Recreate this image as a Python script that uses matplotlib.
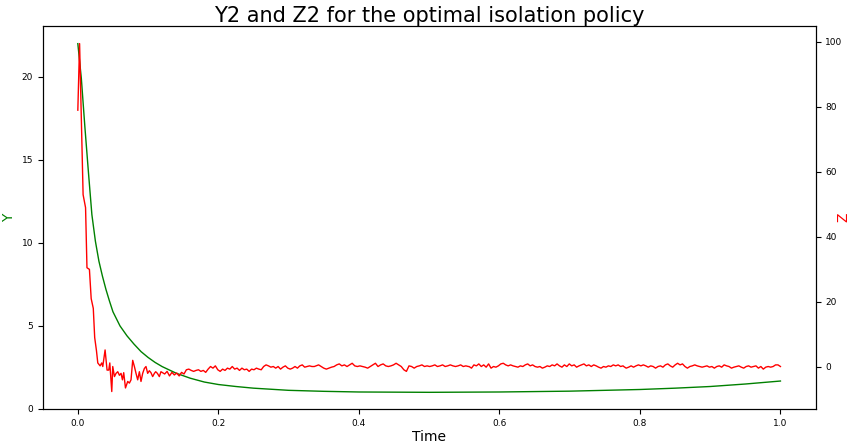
"""Y2 and Z2 under the optimal isolation policy, twin-axis line chart."""

import matplotlib
matplotlib.use("Agg")
import matplotlib.pyplot as plt
import numpy as np

# green curve, left axis (Y)
y_time = [0, 0.005, 0.01, 0.015, 0.02, 0.025, 0.03, 0.035, 0.04, 0.045, 0.05,
          0.06, 0.07, 0.08, 0.09, 0.1, 0.11, 0.12, 0.13, 0.14, 0.16, 0.18,
          0.2, 0.225, 0.25, 0.3, 0.35, 0.4, 0.5, 0.6, 0.7, 0.8, 0.85, 0.9,
          0.95, 1.0]
y_vals = [22.0, 19.9, 17.0, 14.3, 11.7, 10.1, 8.9, 8.0, 7.2, 6.5, 5.85,
          5.0, 4.4, 3.9, 3.45, 3.1, 2.8, 2.55, 2.35, 2.15, 1.85, 1.62,
          1.47, 1.35, 1.25, 1.12, 1.06, 1.02, 1.0, 1.02, 1.07, 1.17, 1.25, 1.35,
          1.5, 1.68]

# red curve, right axis (Z) -- initial transient
z_time_early = [0.0, 0.0025, 0.0075, 0.011, 0.013, 0.0165, 0.019, 0.022, 0.024,
                0.0265, 0.0284, 0.0317, 0.034, 0.0355, 0.0388, 0.0416, 0.044,
                0.0455, 0.0483, 0.0497, 0.0521, 0.0544, 0.0568, 0.0592, 0.0615,
                0.0635, 0.0653, 0.0678, 0.071, 0.0734, 0.0757, 0.0781, 0.0805,
                0.0828, 0.0852, 0.0876, 0.0899, 0.0923, 0.0947, 0.097, 0.0994,
                0.1018, 0.1041, 0.1065, 0.109, 0.1108, 0.1132, 0.116, 0.1183]
z_vals_early = [79, 99.5, 53, 49, 30.5, 30, 21, 18, 9,
                5, 1.2, 0.3, 1.2, 0.1, 5.2, -1, -1,
                1.2, -7.6, 0.1, -3, -2, -1.5, -2.6, -2,
                -4, -1.8, -6.5, -4.5, -5, -4, 2, 0.1,
                -2, -4, -1.5, -4.5, -2, -0.5, 0.1, -2,
                -1.2, -1.8, -3, -2, -1.5, -2, -3, -1.5]

# red curve -- noisy plateau, in four stretches
z_span_a = (0.1236, 0.3366)
z_vals_a = [-2.2, -1.4, -2.8, -1.7, -2.5, -1.9, -2.8, -1.7, -2.2, -0.9,
            -0.7, -1.1, -1.4, -1.1, -0.9, -1.4, -1.1, -1.7, -0.7, 0.1,
            -0.4, 0.3, -0.9, -1.4, -0.7, -1.1, -0.4, -0.7, 0.1, -0.7,
            -0.4, -1.1, -0.4, -0.9, -0.7, -1.4, -0.7, -0.9, -0.4, -0.7,
            -0.9, 0.1, 0.6, 0.3, -0.1, 0.1, -0.4, 0.1, -0.7, -0.1,
            0.3, -0.4, -0.7, -0.4, 0.1, -0.4, 0.3, 0.6, -0.1, 0.1,
            0.3, 0.1, 0.1]
z_span_b = (0.339, 0.5559)
z_vals_b = [0.3, 0.6, 0.1, -0.4, -0.7, -0.4, -0.1, 0.1, 0.6, 0.9,
            0.3, 0.6, 0.1, 0.6, 1.1, 0.3, 0.1, 0.3, 0.1, -0.1,
            -0.4, 0.1, 0.6, 1.1, 0.1, 0.6, 0.9, 0.3, 0.1, 0.3,
            0.6, 1.1, 0.6, 0.1, -0.9, -1.4, 0.3, 0.1, -0.4, 0.1,
            0.3, 0.6, 0.1, 0.3, 0.1, 0.3, 0.6, 0.1, 0.3, 0.6,
            0.1, 0.3, 0.6, 0.3, 0.1, 0.3, 0.6, 0.1, 0.3, 0.1]
z_span_c = (0.5568, 0.776)
z_vals_c = [0.1, -0.4, 0.6, 0.3, 0.9, 0.1, 0.6, -0.1, 0.9, -0.4,
            0.1, -0.1, 0.3, 0.9, 1.1, 0.6, 0.3, 0.6, 0.3, 0.1,
            -0.1, 0.3, 0.1, 0.6, 0.9, 0.3, 0.6, 0.1, -0.1, 0.1,
            -0.4, -0.1, 0.3, 0.1, 0.6, 0.3, 0.9, 0.3, -0.1, 0.6,
            0.1, 0.9, 0.3, 0.6, -0.1, 0.3, 0.6, 0.9, 0.3, 0.6,
            0.1, 0.6, 0.3, -0.1, -0.4, 0.1, -0.1, 0.3, 0.1, 0.6,
            0.3, 0.6, 0.1, 0.3]
z_span_d = (0.777, 1.0)
z_vals_d = [0.1, -0.4, -0.1, 0.3, -0.1, 0.3, 0.6, 0.3, 0.6, 0.3,
            -0.1, 0.3, 0.1, -0.4, 0.1, 0.3, -0.1, 0.6, 0.9, 0.3,
            -0.1, 0.6, 1.1, 0.6, 0.9, 0.1, -0.4, 0.1, 0.3, 0.6,
            0.3, 0.1, -0.1, 0.1, 0.3, -0.1, 0.1, -0.4, 0.1, 0.3,
            -0.1, 0.6, 0.3, 0.1, -0.4, -0.1, 0.1, 0.3, -0.1, -0.4,
            0.1, 0.3, -0.1, 0.1, 0.3, -0.4, 0.1, -0.7, -0.1, 0.1,
            -0.1, 0.1, 0.6, 0.6, 0.1]


def stretch_times(span, vals):
    return np.linspace(span[0], span[1], len(vals))


z_time = np.concatenate([z_time_early,
                         stretch_times(z_span_a, z_vals_a),
                         stretch_times(z_span_b, z_vals_b),
                         stretch_times(z_span_c, z_vals_c),
                         stretch_times(z_span_d, z_vals_d)])
z_vals = np.concatenate([z_vals_early, z_vals_a, z_vals_b, z_vals_c, z_vals_d])

fig = plt.figure(figsize=(8.54, 4.44), dpi=100)
ax1 = fig.add_axes([0.050, 0.079, 0.905, 0.862])
ax2 = ax1.twinx()

ax1.plot(y_time, y_vals, color="green", linewidth=1.0)
ax2.plot(z_time, z_vals, color="red", linewidth=1.0)

ax1.set_ylim(bottom=0)
ax1.set_xlabel("Time", fontsize=10)
ax1.set_ylabel("Y", color="green", fontsize=10)
ax2.set_ylabel("Z", color="red", fontsize=10)
ax1.xaxis.set_label_coords(0.5, -0.055)
ax1.yaxis.set_label_coords(-0.034, 0.5)
ax2.yaxis.set_label_coords(1.027, 0.5)
ax1.set_title("Y2 and Z2 for the optimal isolation policy", fontsize=15, pad=3)
ax1.tick_params(labelsize=6.5)
ax2.tick_params(labelsize=6.5)

fig.savefig("out.png", dpi=100)
